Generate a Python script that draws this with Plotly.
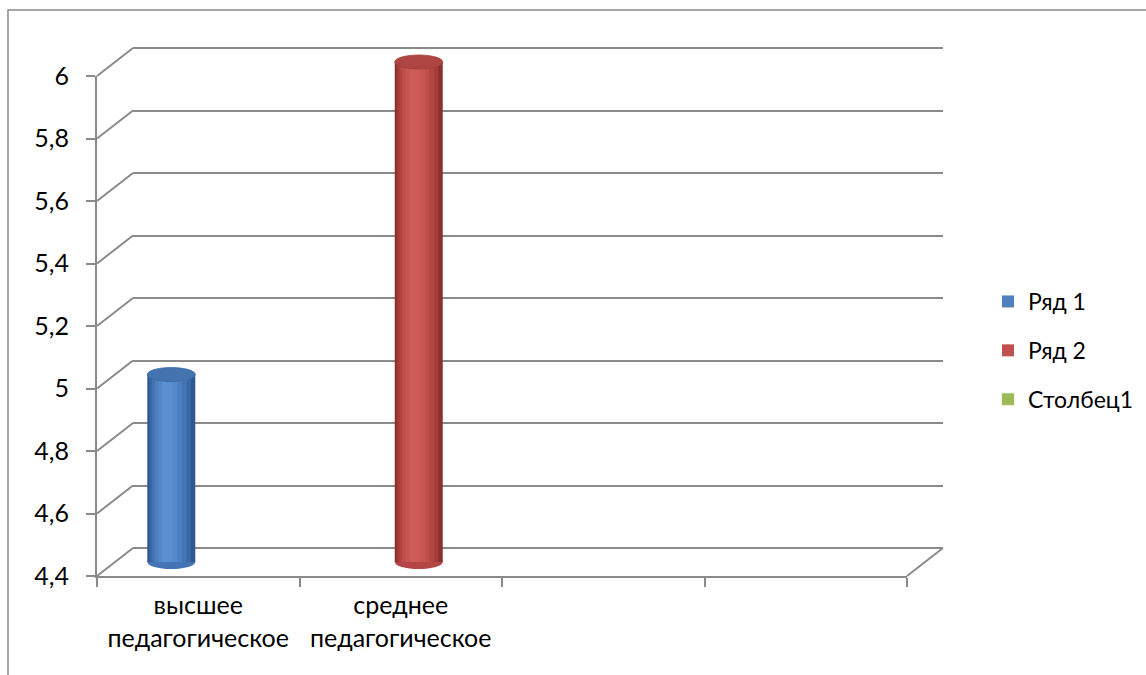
import plotly.graph_objects as go

# ---------------- data ----------------
categories = ["высшее<br>педагогическое", "среднее<br>педагогическое", " ", "  "]
series_names = ["Ряд 1", "Ряд 2", "Столбец1"]
ryad1 = [5, None, None, None]
ryad2 = [None, 6, None, None]
stolbec1 = [None, None, None, None]
y_ticks = [4.4, 4.6, 4.8, 5.0, 5.2, 5.4, 5.6, 5.8, 6.0]
y_tick_labels = ["4,4", "4,6", "4,8", "5", "5,2", "5,4", "5,6", "5,8", "6"]

series_values = [ryad1, ryad2, stolbec1]

# ---------------- geometry / style ----------------
W, H = 1146, 675
FL, FR, FT, FB = 97, 907, 76, 576      # front plane of the 3-D box (px)
DX, DY = 36, 28                          # depth offset (px)
PAD = 24
YMIN, YMAX = y_ticks[0], y_ticks[-1]
PPU = (FB - FT) / (YMAX - YMIN)
GRAY = "#8a8a8a"
FONT = "Lato"
FS_TICK = 25
FS_LEG = 23

base_colors = ["#4f81bd", "#c0504d", "#9bbb59"]
ramps = [
    ["#2f5890", "#3a68a6", "#4474b3", "#4d80c0", "#5488c9", "#5a8fd1"],
    ["#8a302e", "#a33d3a", "#b34644", "#c04f4c", "#c95553", "#cf5b58"],
    ["#6f8a3c", "#809f47", "#8daf50", "#9bbb59", "#a5c563", "#abcb69"],
]
cap_colors = ["#4474b0", "#af4542", "#8fae52"]
layer_w = [1.0, 0.86, 0.72, 0.56, 0.40, 0.22]
layer_shift = [0.0, -0.02, -0.04, -0.06, -0.07, -0.08]
slot_offsets = [-0.222, 0.0, 0.222]
BW = 0.237
CAP = 7 / PPU


def px(x):
    return x / W


def py(y):
    return 1 - y / H


fig = go.Figure()

# dummy traces so every subplot is drawn
fig.add_trace(go.Scatter(x=[categories[0]], y=[None], xaxis="x2", yaxis="y2",
                         showlegend=False, hoverinfo="skip"))
fig.add_trace(go.Scatter(x=[categories[0]], y=[None], xaxis="x", yaxis="y",
                         showlegend=False, hoverinfo="skip"))

shapes = []
for i, (name, vals) in enumerate(zip(series_names, series_values)):
    heights = [None if v is None else v - YMIN for v in vals]
    for k, (wf, sh, col) in enumerate(zip(layer_w, layer_shift, ramps[i])):
        w = wf * BW
        fig.add_trace(go.Bar(
            x=categories, y=heights, base=YMIN,
            offset=slot_offsets[i] + sh * BW - w / 2, width=w,
            marker=dict(color=col, line=dict(width=0)),
            xaxis="x3", yaxis="y3", name=name,
            legendgroup=name, showlegend=False, hoverinfo="skip",
        ))
    # legend entry
    fig.add_trace(go.Bar(
        x=categories, y=[None] * len(categories), name=name,
        marker=dict(color=base_colors[i], line=dict(width=0)),
        xaxis="x3", yaxis="y3", legendgroup=name, showlegend=True,
    ))
    for j, v in enumerate(vals):
        if v is None:
            continue
        c = j + slot_offsets[i]
        shapes.append(dict(type="circle", xref="x3", yref="y3", layer="below",
                           x0=c - BW / 2, x1=c + BW / 2, y0=YMIN - CAP, y1=YMIN + CAP,
                           fillcolor=ramps[i][2], line=dict(width=0)))
        shapes.append(dict(type="circle", xref="x3", yref="y3", layer="above",
                           x0=c - BW / 2, x1=c + BW / 2, y0=v - CAP, y1=v + CAP,
                           fillcolor=cap_colors[i], line=dict(width=0.8, color=ramps[i][1])))

# perspective connectors (front tick -> back gridline)
for v in y_ticks:
    yf = FT + (YMAX - v) * PPU
    shapes.append(dict(type="line", xref="paper", yref="paper",
                       x0=px(FL), y0=py(yf), x1=px(FL + DX), y1=py(yf - DY),
                       line=dict(color=GRAY, width=2)))
shapes.append(dict(type="line", xref="paper", yref="paper",
                   x0=px(FR), y0=py(FB), x1=px(FR + DX), y1=py(FB - DY),
                   line=dict(color=GRAY, width=2)))
# outer chart frame
shapes.append(dict(type="rect", xref="paper", yref="paper",
                   x0=px(8), y0=py(10), x1=1.2, y1=-0.2,
                   line=dict(color=GRAY, width=1.5), fillcolor="rgba(0,0,0,0)"))

fig.update_layout(
    width=W, height=H,
    margin=dict(l=0, r=0, t=0, b=0, autoexpand=False),
    paper_bgcolor="white", plot_bgcolor="rgba(0,0,0,0)",
    separators=", ",
    barmode="overlay",
    font=dict(family=FONT, size=FS_TICK, color="black"),
    shapes=shapes,
    showlegend=True,
    legend=dict(x=px(988), y=py(280), xanchor="left", yanchor="top",
                font=dict(family=FONT, size=FS_LEG, color="black"),
                tracegroupgap=16, bgcolor="rgba(0,0,0,0)"),
    xaxis=dict(domain=[px(FL), px(FR)], anchor="y", type="category",
               categoryorder="array", categoryarray=categories, range=[-0.5, 3.5],
               showline=True, linecolor=GRAY, linewidth=2,
               ticks="outside", tickson="boundaries", ticklen=9, tickcolor=GRAY, tickwidth=2,
               ticklabelstandoff=6, automargin=False,
               showgrid=False, zeroline=False, fixedrange=True,
               tickfont=dict(family=FONT, size=FS_TICK, color="black")),
    yaxis=dict(domain=[py(FB), py(FT)], anchor="x", range=[YMIN, YMAX],
               tickvals=y_ticks, ticktext=y_tick_labels,
               showline=True, linecolor=GRAY, linewidth=2,
               ticks="outside", ticklen=9, tickcolor=GRAY, tickwidth=2,
               ticklabelstandoff=12, automargin=False,
               showgrid=False, zeroline=False, fixedrange=True,
               tickfont=dict(family=FONT, size=FS_TICK, color="black")),
    xaxis2=dict(domain=[px(FL + DX), px(FR + DX)], anchor="y2", type="category",
                categoryorder="array", categoryarray=categories, range=[-0.5, 3.5],
                showline=False, showticklabels=False, ticks="", showgrid=False,
                zeroline=False, fixedrange=True, automargin=False),
    yaxis2=dict(domain=[py(FB - DY + PAD), py(FT - DY - PAD)], anchor="x2",
                range=[YMIN - PAD / PPU, YMAX + PAD / PPU],
                tickvals=y_ticks, showticklabels=False, ticks="", showline=False,
                showgrid=True, gridcolor=GRAY, gridwidth=2, zeroline=False,
                fixedrange=True, automargin=False),
    xaxis3=dict(domain=[px(FL + DX / 2), px(FR + DX / 2)], anchor="y3", type="category",
                categoryorder="array", categoryarray=categories, range=[-0.5, 3.5],
                visible=False, fixedrange=True, automargin=False),
    yaxis3=dict(domain=[py(FB - DY / 2 + PAD), py(FT - DY / 2 - PAD)], anchor="x3",
                range=[YMIN - PAD / PPU, YMAX + PAD / PPU],
                visible=False, fixedrange=True, automargin=False),
)

fig.write_html("out.html", config={"displayModeBar": False},
               post_script="document.body.style.margin='0px';")
